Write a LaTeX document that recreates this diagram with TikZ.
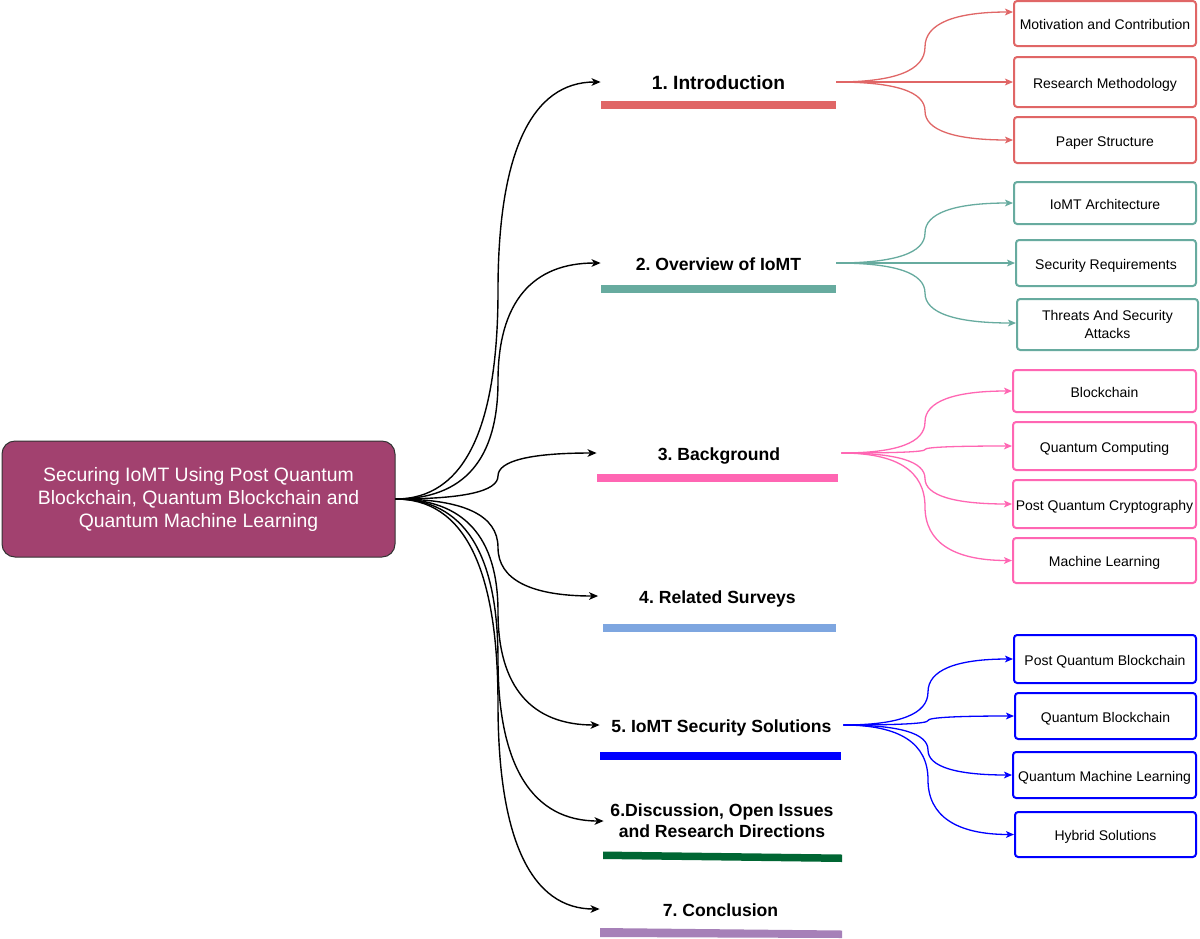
\documentclass[tikz,border=0pt]{standalone}
\usepackage{fontspec}
\setmainfont{Liberation Sans}
\frenchspacing
\usetikzlibrary{calc,arrows.meta}
\definecolor{cIntro}{HTML}{E06666}
\definecolor{cOver}{HTML}{67AB9F}
\definecolor{cBack}{HTML}{FF66B3}
\definecolor{cRel}{HTML}{7EA6E0}
\definecolor{cSec}{HTML}{0000FF}
\definecolor{cDisc}{HTML}{006633}
\definecolor{cConc}{HTML}{A680B8}
\definecolor{cMain}{HTML}{A2416F}
\newcommand\dcurve[4]{%
  \draw[#1] let \p1=(#2), \p2=(#4), \p3=(#3) in
    (\p1) .. controls ({\x1/3+2*\x3/3},\y1) and (\x3,{5*\y1/6+\y2/6}) ..
    (\x3,{(\y1+\y2)/2}) .. controls (\x3,{\y1/6+5*\y2/6}) and ({\x2/3+2*\x3/3},\y2) .. (\p2);}
\begin{document}
\begin{tikzpicture}[x=0.5pt,y=-0.5pt,
  head/.style={inner sep=0pt, minimum height=10pt, font=\fontsize{8.8}{10.5}\selectfont\bfseries, align=center},
  hone/.style={head, text height=0.92em, text depth=0.2em},
  sub/.style={draw=#1, line width=1pt, rounded corners=1.6pt, minimum width=91pt, inner sep=1pt,
     font=\fontsize{7}{9}\selectfont, align=center},
  sone/.style={sub=#1, text height=0.82em, text depth=0.2em},
  blk/.style={black, line width=0.7pt, -{Stealth[length=4.5pt,width=3.8pt,inset=1.2pt]}},
  col/.style={#1, line width=0.65pt, -{Stealth[length=4pt,width=3.4pt,inset=1pt]}},
  bar/.style={fill=#1, draw=none}]
\useasboundingbox (0,0) rectangle (1200,938);
\fill[white] (0,0) rectangle (1200,938);

% main node
\node[draw=black!80, line width=0.5pt, fill=cMain, rounded corners=6.5pt, minimum width=196.5pt, minimum height=58pt,
  text=white, align=center, font=\fontsize{9.7}{11.5}\selectfont, inner sep=0pt] (main) at (198.5,499)
  {Securing IoMT Using Post Quantum\\Blockchain, Quantum Blockchain and\\Quantum Machine Learning};

% headings
\node[hone, minimum width=117.5pt, font=\fontsize{9.6}{11}\selectfont\bfseries] (h1) at (718.5,82) {1. Introduction};
\node[hone, minimum width=117.5pt] (h2) at (718.5,263) {2. Overview of IoMT};
\node[hone, minimum width=122pt] (h3) at (719,453) {3. Background};
\node[hone, minimum width=119pt] (h4) at (717.5,596) {4. Related Surveys};
\node[hone, minimum width=121.5pt] (h5) at (721.5,725) {5. IoMT Security Solutions};
\node[head, minimum width=118pt] (h6) at (722,821) {6.Discussion, Open Issues\\and Research Directions};
\node[hone, minimum width=120.5pt] (h7) at (720.5,909) {7. Conclusion};

% bars
\fill[bar=cIntro] (601,101) rectangle (836,108.5);
\fill[bar=cOver] (601,284.5) rectangle (836,292.5);
\fill[bar=cBack] (597,474) rectangle (838,482);
\fill[bar=cRel] (603,624) rectangle (836,632);
\fill[bar=cSec] (600,752) rectangle (841,759.5);
\fill[bar=cDisc] (603,851.5) -- (842,854.5) -- (842,862) -- (603,859) -- cycle;
\fill[bar=cConc] (600,928) -- (842,930.5) -- (842,938) -- (600,937) -- cycle;

% sub boxes
\node[sone=cIntro, minimum height=22.5pt] (m1) at (1105,23.5) {Motivation and Contribution};
\node[sone=cIntro, minimum height=25pt] (m2) at (1105,82) {Research Methodology};
\node[sone=cIntro, minimum height=23pt] (m3) at (1105,140) {Paper Structure};
\node[sone=cOver, minimum height=21pt] (o1) at (1105,203) {IoMT Architecture};
\node[sone=cOver, minimum width=90pt, minimum height=23pt] (o2) at (1106,263) {Security Requirements};
\node[sub=cOver, minimum width=90.5pt, minimum height=25.5pt] (o3) at (1107.5,324.5) {Threats And Security\\Attacks};
\node[sone=cBack, minimum width=91.5pt, minimum height=21pt] (b1) at (1104.5,391) {Blockchain};
\node[sone=cBack, minimum width=91.5pt, minimum height=24pt] (b2) at (1104.5,446) {Quantum Computing};
\node[sone=cBack, minimum width=91.5pt, minimum height=24pt] (b3) at (1104.5,504) {Post Quantum Cryptography};
\node[sone=cBack, minimum width=91.5pt, minimum height=22.5pt] (b4) at (1104.5,560.5) {Machine Learning};
\node[sone=cSec, minimum height=24pt] (s1) at (1105,659) {Post Quantum Blockchain};
\node[sone=cSec, minimum width=90.5pt, minimum height=23pt] (s2) at (1105.5,716) {Quantum Blockchain};
\node[sone=cSec, minimum width=91.5pt, minimum height=23pt] (s3) at (1104.5,775) {Quantum Machine Learning};
\node[sone=cSec, minimum width=90.5pt, minimum height=22.5pt] (s4) at (1105.5,834.5) {Hybrid Solutions};

% black connectors
\foreach \h in {h1,h2,h3,h4,h5,h6,h7}{\dcurve{blk}{main.east}{498,0}{\h.west}}

% coloured connectors
\dcurve{col=cIntro}{h1.east}{925,0}{$(m1.west)+(0,-11.5)$}
\draw[col=cIntro] (h1.east) -- (m2.west);
\dcurve{col=cIntro}{h1.east}{925,0}{m3.west}
\dcurve{col=cOver}{h2.east}{925,0}{o1.west}
\draw[col=cOver] (h2.east) -- (o2.west);
\dcurve{col=cOver}{h2.east}{925,0}{$(o3.west)+(0,-1.5)$}
\dcurve{col=cBack}{h3.east}{925,0}{b1.west}
\dcurve{col=cBack}{h3.east}{925,0}{b2.west}
\dcurve{col=cBack}{h3.east}{925,0}{b3.west}
\dcurve{col=cBack}{h3.east}{925,0}{b4.west}
\dcurve{col=cSec}{h5.east}{928,0}{s1.west}
\dcurve{col=cSec}{h5.east}{928,0}{s2.west}
\dcurve{col=cSec}{h5.east}{928,0}{s3.west}
\dcurve{col=cSec}{h5.east}{928,0}{s4.west}
\end{tikzpicture}
\end{document}
